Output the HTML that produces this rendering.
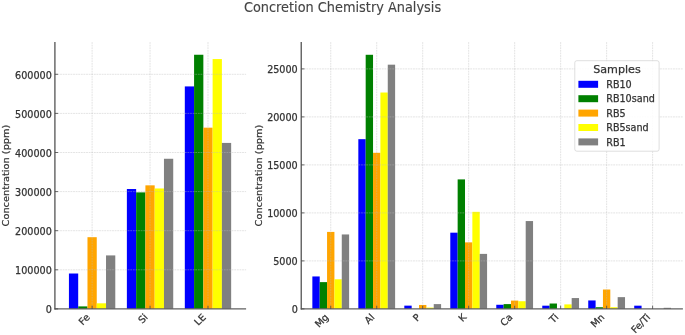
<!DOCTYPE html>
<html><head><meta charset="utf-8"><title>Concretion Chemistry Analysis</title>
<style>
html,body{margin:0;padding:0;background:#fff;}
body{width:685px;height:335px;overflow:hidden;}
svg{display:block;font-family:"DejaVu Sans","Liberation Sans",sans-serif;}
text{stroke:#333333;stroke-width:0.25px;}
.t{font-size:9.65px;fill:#333333;}
.ti{font-size:12.92px;fill:#454545;stroke:#454545;stroke-width:0.12px;}
.lt{font-size:11.15px;fill:#333333;}
.g{stroke:#b8b8b8;stroke-width:0.5;stroke-dasharray:1.8 0.8;stroke-opacity:0.8;}
.s{stroke:#606060;stroke-width:1.4;}
.k{stroke:#444;stroke-width:0.8;}
</style></head><body>
<svg width="685" height="335" viewBox="0 0 685 335">
<rect width="685" height="335" fill="#ffffff"/>
<rect x="68.93" y="273.51" width="9.27" height="35.39" fill="#0000ff"/>
<rect x="78.21" y="306.40" width="9.27" height="2.50" fill="#008000"/>
<rect x="87.48" y="237.19" width="9.27" height="71.71" fill="#ffa500"/>
<rect x="96.75" y="303.31" width="9.27" height="5.59" fill="#ffff00"/>
<rect x="106.02" y="255.41" width="9.27" height="53.49" fill="#808080"/>
<rect x="126.87" y="189.02" width="9.27" height="119.88" fill="#0000ff"/>
<rect x="136.14" y="192.38" width="9.27" height="116.52" fill="#008000"/>
<rect x="145.41" y="185.34" width="9.27" height="123.56" fill="#ffa500"/>
<rect x="154.69" y="188.47" width="9.27" height="120.43" fill="#ffff00"/>
<rect x="163.96" y="158.76" width="9.27" height="150.14" fill="#808080"/>
<rect x="184.81" y="86.42" width="9.27" height="222.48" fill="#0000ff"/>
<rect x="194.08" y="54.75" width="9.27" height="254.15" fill="#008000"/>
<rect x="203.35" y="127.67" width="9.27" height="181.23" fill="#ffa500"/>
<rect x="212.62" y="59.05" width="9.27" height="249.85" fill="#ffff00"/>
<rect x="221.89" y="142.92" width="9.27" height="165.98" fill="#808080"/>
<line x1="54.90" y1="269.80" x2="246.10" y2="269.80" class="g"/>
<line x1="54.90" y1="230.70" x2="246.10" y2="230.70" class="g"/>
<line x1="54.90" y1="191.60" x2="246.10" y2="191.60" class="g"/>
<line x1="54.90" y1="152.50" x2="246.10" y2="152.50" class="g"/>
<line x1="54.90" y1="113.40" x2="246.10" y2="113.40" class="g"/>
<line x1="54.90" y1="74.30" x2="246.10" y2="74.30" class="g"/>
<line x1="92.11" y1="42.10" x2="92.11" y2="308.90" class="g"/>
<line x1="150.05" y1="42.10" x2="150.05" y2="308.90" class="g"/>
<line x1="207.99" y1="42.10" x2="207.99" y2="308.90" class="g"/>
<line x1="54.90" y1="42.10" x2="54.90" y2="309.40" class="s"/>
<line x1="54.40" y1="308.90" x2="246.10" y2="308.90" class="s"/>
<line x1="54.90" y1="308.90" x2="58.10" y2="308.90" class="k"/>
<text x="51.80" y="313.30" text-anchor="end" class="t">0</text>
<line x1="54.90" y1="269.80" x2="58.10" y2="269.80" class="k"/>
<text x="51.80" y="274.20" text-anchor="end" class="t">100000</text>
<line x1="54.90" y1="230.70" x2="58.10" y2="230.70" class="k"/>
<text x="51.80" y="235.10" text-anchor="end" class="t">200000</text>
<line x1="54.90" y1="191.60" x2="58.10" y2="191.60" class="k"/>
<text x="51.80" y="196.00" text-anchor="end" class="t">300000</text>
<line x1="54.90" y1="152.50" x2="58.10" y2="152.50" class="k"/>
<text x="51.80" y="156.90" text-anchor="end" class="t">400000</text>
<line x1="54.90" y1="113.40" x2="58.10" y2="113.40" class="k"/>
<text x="51.80" y="117.80" text-anchor="end" class="t">500000</text>
<line x1="54.90" y1="74.30" x2="58.10" y2="74.30" class="k"/>
<text x="51.80" y="78.70" text-anchor="end" class="t">600000</text>
<line x1="92.11" y1="308.90" x2="92.11" y2="305.70" class="k"/>
<text transform="translate(90.56,317.90) rotate(-45)" text-anchor="end" class="t">Fe</text>
<line x1="150.05" y1="308.90" x2="150.05" y2="305.70" class="k"/>
<text transform="translate(148.50,317.90) rotate(-45)" text-anchor="end" class="t">Si</text>
<line x1="207.99" y1="308.90" x2="207.99" y2="305.70" class="k"/>
<text transform="translate(206.44,317.90) rotate(-45)" text-anchor="end" class="t">LE</text>
<rect x="312.35" y="276.45" width="7.36" height="32.45" fill="#0000ff"/>
<rect x="319.70" y="282.12" width="7.36" height="26.78" fill="#008000"/>
<rect x="327.06" y="231.91" width="7.36" height="76.99" fill="#ffa500"/>
<rect x="334.42" y="279.28" width="7.36" height="29.62" fill="#ffff00"/>
<rect x="341.77" y="234.45" width="7.36" height="74.45" fill="#808080"/>
<rect x="358.33" y="139.17" width="7.36" height="169.73" fill="#0000ff"/>
<rect x="365.68" y="54.79" width="7.36" height="254.11" fill="#008000"/>
<rect x="373.04" y="152.80" width="7.36" height="156.10" fill="#ffa500"/>
<rect x="380.40" y="92.52" width="7.36" height="216.38" fill="#ffff00"/>
<rect x="387.76" y="64.68" width="7.36" height="244.22" fill="#808080"/>
<rect x="404.31" y="305.64" width="7.36" height="3.26" fill="#0000ff"/>
<rect x="419.02" y="304.96" width="7.36" height="3.94" fill="#ffa500"/>
<rect x="426.38" y="307.60" width="7.36" height="1.30" fill="#ffff00"/>
<rect x="433.74" y="304.10" width="7.36" height="4.80" fill="#808080"/>
<rect x="450.29" y="232.68" width="7.36" height="76.22" fill="#0000ff"/>
<rect x="457.65" y="179.40" width="7.36" height="129.50" fill="#008000"/>
<rect x="465.01" y="242.37" width="7.36" height="66.53" fill="#ffa500"/>
<rect x="472.36" y="211.84" width="7.36" height="97.06" fill="#ffff00"/>
<rect x="479.72" y="253.89" width="7.36" height="55.01" fill="#808080"/>
<rect x="496.27" y="304.77" width="7.36" height="4.13" fill="#0000ff"/>
<rect x="503.63" y="304.10" width="7.36" height="4.80" fill="#008000"/>
<rect x="510.99" y="300.60" width="7.36" height="8.30" fill="#ffa500"/>
<rect x="518.34" y="301.22" width="7.36" height="7.68" fill="#ffff00"/>
<rect x="525.70" y="221.06" width="7.36" height="87.84" fill="#808080"/>
<rect x="542.26" y="305.68" width="7.36" height="3.22" fill="#0000ff"/>
<rect x="549.61" y="303.52" width="7.36" height="5.38" fill="#008000"/>
<rect x="564.33" y="304.39" width="7.36" height="4.51" fill="#ffff00"/>
<rect x="571.68" y="298.05" width="7.36" height="10.85" fill="#808080"/>
<rect x="588.24" y="300.45" width="7.36" height="8.45" fill="#0000ff"/>
<rect x="595.59" y="307.22" width="7.36" height="1.68" fill="#008000"/>
<rect x="602.95" y="289.51" width="7.36" height="19.39" fill="#ffa500"/>
<rect x="610.31" y="307.22" width="7.36" height="1.68" fill="#ffff00"/>
<rect x="617.67" y="297.14" width="7.36" height="11.76" fill="#808080"/>
<rect x="634.22" y="305.68" width="7.36" height="3.22" fill="#0000ff"/>
<rect x="663.65" y="307.80" width="7.36" height="1.10" fill="#808080"/>
<line x1="301.25" y1="260.90" x2="682.90" y2="260.90" class="g"/>
<line x1="301.25" y1="212.90" x2="682.90" y2="212.90" class="g"/>
<line x1="301.25" y1="164.90" x2="682.90" y2="164.90" class="g"/>
<line x1="301.25" y1="116.90" x2="682.90" y2="116.90" class="g"/>
<line x1="301.25" y1="68.90" x2="682.90" y2="68.90" class="g"/>
<line x1="330.74" y1="42.10" x2="330.74" y2="308.90" class="g"/>
<line x1="376.72" y1="42.10" x2="376.72" y2="308.90" class="g"/>
<line x1="422.70" y1="42.10" x2="422.70" y2="308.90" class="g"/>
<line x1="468.68" y1="42.10" x2="468.68" y2="308.90" class="g"/>
<line x1="514.67" y1="42.10" x2="514.67" y2="308.90" class="g"/>
<line x1="560.65" y1="42.10" x2="560.65" y2="308.90" class="g"/>
<line x1="606.63" y1="42.10" x2="606.63" y2="308.90" class="g"/>
<line x1="652.61" y1="42.10" x2="652.61" y2="308.90" class="g"/>
<line x1="301.25" y1="42.10" x2="301.25" y2="309.40" class="s"/>
<line x1="300.75" y1="308.90" x2="682.90" y2="308.90" class="s"/>
<line x1="301.25" y1="308.90" x2="304.45" y2="308.90" class="k"/>
<text x="297.75" y="313.30" text-anchor="end" class="t">0</text>
<line x1="301.25" y1="260.90" x2="304.45" y2="260.90" class="k"/>
<text x="297.75" y="265.30" text-anchor="end" class="t">5000</text>
<line x1="301.25" y1="212.90" x2="304.45" y2="212.90" class="k"/>
<text x="297.75" y="217.30" text-anchor="end" class="t">10000</text>
<line x1="301.25" y1="164.90" x2="304.45" y2="164.90" class="k"/>
<text x="297.75" y="169.30" text-anchor="end" class="t">15000</text>
<line x1="301.25" y1="116.90" x2="304.45" y2="116.90" class="k"/>
<text x="297.75" y="121.30" text-anchor="end" class="t">20000</text>
<line x1="301.25" y1="68.90" x2="304.45" y2="68.90" class="k"/>
<text x="297.75" y="73.30" text-anchor="end" class="t">25000</text>
<line x1="330.74" y1="308.90" x2="330.74" y2="305.70" class="k"/>
<text transform="translate(329.14,317.90) rotate(-45)" text-anchor="end" class="t">Mg</text>
<line x1="376.72" y1="308.90" x2="376.72" y2="305.70" class="k"/>
<text transform="translate(375.12,317.90) rotate(-45)" text-anchor="end" class="t">Al</text>
<line x1="422.70" y1="308.90" x2="422.70" y2="305.70" class="k"/>
<text transform="translate(421.10,317.90) rotate(-45)" text-anchor="end" class="t">P</text>
<line x1="468.68" y1="308.90" x2="468.68" y2="305.70" class="k"/>
<text transform="translate(467.08,317.90) rotate(-45)" text-anchor="end" class="t">K</text>
<line x1="514.67" y1="308.90" x2="514.67" y2="305.70" class="k"/>
<text transform="translate(513.07,317.90) rotate(-45)" text-anchor="end" class="t">Ca</text>
<line x1="560.65" y1="308.90" x2="560.65" y2="305.70" class="k"/>
<text transform="translate(559.05,317.90) rotate(-45)" text-anchor="end" class="t">Ti</text>
<line x1="606.63" y1="308.90" x2="606.63" y2="305.70" class="k"/>
<text transform="translate(605.03,317.90) rotate(-45)" text-anchor="end" class="t">Mn</text>
<line x1="652.61" y1="308.90" x2="652.61" y2="305.70" class="k"/>
<text transform="translate(651.01,317.90) rotate(-45)" text-anchor="end" class="t">Fe/Ti</text>
<text transform="translate(9.45,175.50) rotate(-90) scale(1,0.93)" text-anchor="middle" class="t" style="font-size:9.78px">Concentration (ppm)</text>
<text transform="translate(262.3,175.50) rotate(-90) scale(1,0.93)" text-anchor="middle" class="t" style="font-size:9.78px">Concentration (ppm)</text>
<text transform="translate(342.5,11.55) scale(1,1.06)" text-anchor="middle" class="ti">Concretion Chemistry Analysis</text>
<rect x="574.8" y="60.7" width="84.30" height="90.50" rx="2" ry="2" fill="#ffffff" fill-opacity="0.88" stroke="#cccccc" stroke-opacity="0.65" stroke-width="1"/>
<text x="616.95" y="72.7" text-anchor="middle" class="lt">Samples</text>
<rect x="578.4" y="80.80" width="19.7" height="7.0" fill="#0000ff"/>
<text x="606.2" y="88.05" class="t">RB10</text>
<rect x="578.4" y="95.20" width="19.7" height="7.0" fill="#008000"/>
<text x="606.2" y="102.45" class="t">RB10sand</text>
<rect x="578.4" y="109.60" width="19.7" height="7.0" fill="#ffa500"/>
<text x="606.2" y="116.85" class="t">RB5</text>
<rect x="578.4" y="124.00" width="19.7" height="7.0" fill="#ffff00"/>
<text x="606.2" y="131.25" class="t">RB5sand</text>
<rect x="578.4" y="138.40" width="19.7" height="7.0" fill="#808080"/>
<text x="606.2" y="145.65" class="t">RB1</text>
</svg>
</body></html>
